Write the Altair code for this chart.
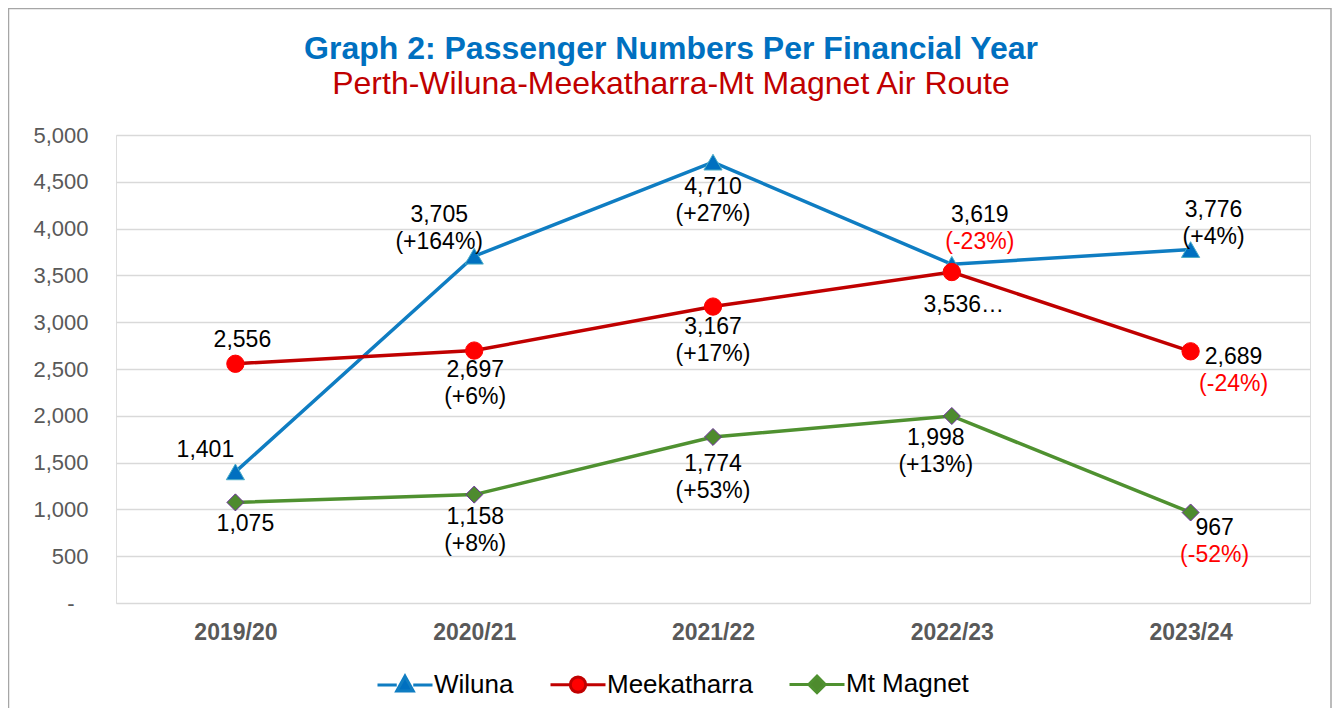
import altair as alt
import pandas as pd

FONT = "Liberation Sans"

years = ["2019/20", "2020/21", "2021/22", "2022/23", "2023/24"]
series_names = ["Wiluna", "Meekatharra", "Mt Magnet"]

wiluna = [1401, 3705, 4710, 3619, 3776]
meekatharra = [2556, 2697, 3167, 3536, 2689]
mt_magnet = [1075, 1158, 1774, 1998, 967]

wiluna_labels = ["1,401", "3,705", "4,710", "3,619", "3,776"]
meekatharra_labels = ["2,556", "2,697", "3,167", "3,536\u2026", "2,689"]
mt_magnet_labels = ["1,075", "1,158", "1,774", "1,998", "967"]

wiluna_pct = ["", "(+164%)", "(+27%)", "(-23%)", "(+4%)"]
meekatharra_pct = ["", "(+6%)", "(+17%)", "", "(-24%)"]
mt_magnet_pct = ["", "(+8%)", "(+53%)", "(+13%)", "(-52%)"]

# styling
line_colors = ["#0F7DC2", "#C00000", "#4F9130"]
marker_fill = ["#0070C0", "#FF0000", "#4E8B2E"]
marker_stroke = ["#4BACC6", "#FF0000", "#7030A0"]
marker_shape = ["triangle-up", "circle", "diamond"]
marker_size = [330, 300, 290]

# label offsets (dx, dy) in pixels for each point's value label
label_offsets = {
    "Wiluna": [(-30, -22), (-35, -41), (0, 25), (28, -49), (23, -40)],
    "Meekatharra": [(7, -24), (1, 19), (0, 20), (12, 33), (43, 6)],
    "Mt Magnet": [(10, 22), (1, 22), (0, 27), (-16, 22), (24, 16)],
}
PCT_GAP = 27

values_by_series = [wiluna, meekatharra, mt_magnet]
labels_by_series = [wiluna_labels, meekatharra_labels, mt_magnet_labels]
pct_by_series = [wiluna_pct, meekatharra_pct, mt_magnet_pct]

rows = []
for s, vals, labs, pcts in zip(series_names, values_by_series, labels_by_series, pct_by_series):
    for y, v, l, p in zip(years, vals, labs, pcts):
        rows.append({"series": s, "year": y, "value": v, "label": l, "pct": p})
df = pd.DataFrame(rows)

x_enc = alt.X("year:N", sort=years, scale=alt.Scale(type="point", padding=0.5),
              axis=alt.Axis(title=None, labelFont=FONT, labelFontSize=23, labelFontWeight="bold",
                            labelColor="#595959", labelPadding=18, ticks=False, tickSize=0,
                            domain=False, grid=False, labelAngle=0))
y_enc = alt.Y("value:Q", scale=alt.Scale(domain=[0, 5000], nice=False),
              axis=alt.Axis(title=None, values=list(range(0, 5001, 500)),
                            labelExpr="datum.value === 0 ? '-' : format(datum.value, ',')",
                            labelFont=FONT, labelFontSize=22, labelColor="#595959",
                            labelPadding={"condition": {"test": "datum.value === 0", "value": 42},
                                          "value": 28},
                            ticks=False, tickSize=0, domain=False,
                            gridColor="#D9D9D9", gridWidth=1.5))

# legend symbols: a short line with the marker in the middle
tri = "M-1,0L-0.3,0M0.3,0L1,0M0,-0.32L0.3,0.22L-0.3,0.22Z"
circ = "M-1,0L-0.3,0M0.3,0L1,0M0.28,0A0.28,0.28,0,1,1,-0.28,0A0.28,0.28,0,1,1,0.28,0Z"
dia = "M-1,0L-0.3,0M0.3,0L1,0M0,-0.3L0.3,0L0,0.3L-0.3,0Z"

leg = alt.Legend(orient="none", legendX=260, legendY=520, direction="horizontal", title=None,
                 labelFont=FONT, labelFontSize=26, labelColor="#000000",
                 symbolSize=3025, symbolStrokeWidth=3, labelOffset=0,
                 columnPadding=30, padding=0, symbolOpacity=1)

base = alt.Chart(df)

# carries the legend; its own marks are tiny and hidden under the real markers
legend_layer = base.mark_point(filled=True, strokeWidth=0.1, size=0.5).encode(
    x=alt.X("year:N", sort=years), y="value:Q",
    shape=alt.Shape("series:N", sort=series_names,
                    scale=alt.Scale(domain=series_names, range=[tri, circ, dia]), legend=leg),
    fill=alt.Fill("series:N", sort=series_names,
                  scale=alt.Scale(domain=series_names, range=marker_fill), legend=leg),
    stroke=alt.Stroke("series:N", sort=series_names,
                      scale=alt.Scale(domain=series_names, range=line_colors), legend=leg),
)

layers = []
for i, s in enumerate(series_names):
    layers.append(
        base.transform_filter(alt.datum.series == s).mark_line(
            strokeWidth=3.5, color=line_colors[i]
        ).encode(x=x_enc, y=y_enc)
    )
layers.append(legend_layer)
for i, s in enumerate(series_names):
    layers.append(
        base.transform_filter(alt.datum.series == s).mark_point(
            shape=marker_shape[i], size=marker_size[i], filled=True, fill=marker_fill[i],
            stroke=marker_stroke[i], strokeWidth=1, opacity=1
        ).encode(x=alt.X("year:N", sort=years), y="value:Q")
    )

for i, s in enumerate(series_names):
    for j, yr in enumerate(years):
        dx, dy = label_offsets[s][j]
        sub = base.transform_filter((alt.datum.series == s) & (alt.datum.year == yr))
        layers.append(sub.mark_text(font=FONT, fontSize=23, color="#000000", dx=dx, dy=dy,
                                    align="center", baseline="middle").encode(
            x=alt.X("year:N", sort=years), y="value:Q", text="label:N"))
        pct = pct_by_series[i][j]
        if pct:
            col = "#FF0000" if pct.startswith("(-") else "#000000"
            layers.append(sub.mark_text(font=FONT, fontSize=23, color=col, dx=dx,
                                        dy=dy + PCT_GAP, align="center",
                                        baseline="middle").encode(
                x=alt.X("year:N", sort=years), y="value:Q", text="pct:N"))

frame = alt.Chart(alt.Data(values=[{"a": 1}])).mark_rect(
    filled=False, stroke="#A6A6A6", strokeWidth=1.5
).encode(x=alt.value(-107.5), x2=alt.value(1215), y=alt.value(-126.5), y2=alt.value(700))

chart = alt.layer(frame, *layers).properties(
    width=1194, height=468,
    title=alt.TitleParams(
        text="Graph 2: Passenger Numbers Per Financial Year",
        subtitle="Perth-Wiluna-Meekatharra-Mt Magnet Air Route",
        font=FONT, fontSize=32, fontWeight="bold", color="#0070C0",
        subtitleFont=FONT, subtitleFontSize=32, subtitleColor="#C00000",
        subtitlePadding=3, anchor="middle", frame="group", dx=-42, offset=-93),
    autosize=alt.AutoSizeParams(type="none"),
    padding={"left": 108, "top": 127, "right": 23, "bottom": 105},
).configure_view(stroke=None).configure(font=FONT)

chart.save("out.html", embed_options={"renderer": "svg", "actions": False})
